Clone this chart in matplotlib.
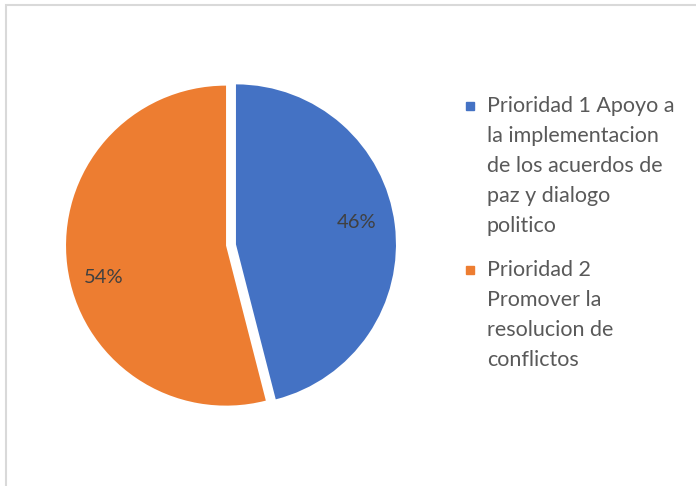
import matplotlib.pyplot as plt
from matplotlib.patches import Rectangle

plt.rcParams['font.family'] = ['Lato', 'DejaVu Sans']

# datos
labels = ['Prioridad 1 Apoyo a\nla implementacion\nde los acuerdos de\npaz y dialogo\npolitico',
          'Prioridad 2\nPromover la\nresolucion de\nconflictos']
valores = [46, 54]
colores = ['#4472C4', '#ED7D31']

W, H = 696, 486
fig = plt.figure(figsize=(W / 100, H / 100), dpi=100)
ax = fig.add_axes([0, 0, 1, 1])

# marco gris del grafico (sale por la derecha y abajo)
fig.patches.append(Rectangle((5.5, -10), W, H - 4.5 + 10, transform=None, fill=False,
                             edgecolor='#d9d9d9', lw=1.5))

wedges, textos, pcts = ax.pie(valores, colors=colores, startangle=90, counterclock=False,
                              explode=[5, 5], radius=160, center=(231, H - 245),
                              autopct='%1.0f%%', pctdistance=0.76,
                              textprops=dict(color='#404040', fontsize=14.5))
# ajuste de etiquetas como en el original
pcts[0].set_y(pcts[0].get_position()[1] + 7)
pcts[1].set_y(pcts[1].get_position()[1] - 17)
pcts[1].set_x(pcts[1].get_position()[0] - 2)

ax.set_xlim(0, W)
ax.set_ylim(0, H)
ax.set_aspect('equal')
ax.axis('off')

# leyenda a mano
y = 106
for lab, c in zip(labels, colores):
    ax.add_patch(Rectangle((466, H - y - 4), 8, 8, color=c))
    for linea in lab.split('\n'):
        ax.text(487, H - y, linea, fontsize=15.5, color='#595959', va='center')
        y += 30
    y += 14

fig.savefig('out.png', dpi=100)
